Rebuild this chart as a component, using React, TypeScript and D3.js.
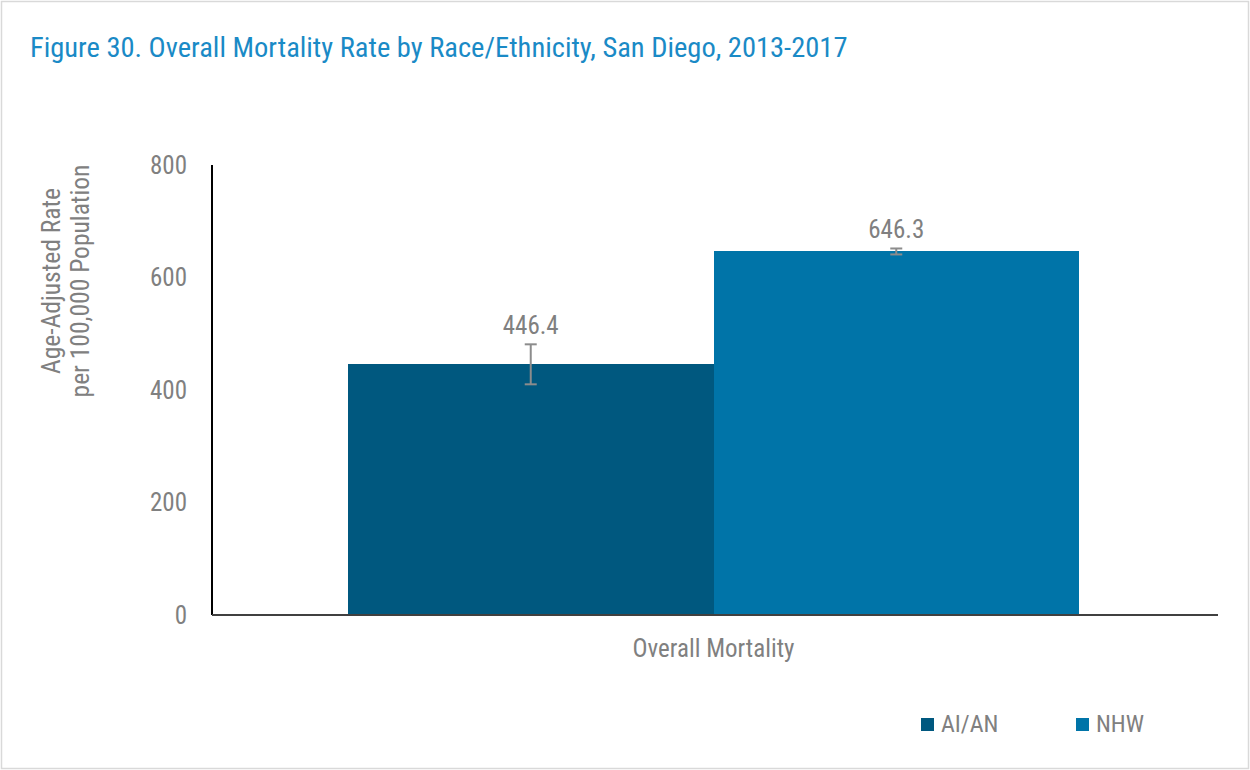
import React from 'react'
import * as d3 from 'd3'

// chart values
const categories = ['Overall Mortality']
const seriesNames = ['AI/AN', 'NHW']
const seriesColors = ['#00587f', '#0074a8']
const rates = [446.4, 646.3]
const ciLower = [410.1, 641.0]
const ciUpper = [481.2, 651.6]
const yTicks = [0, 200, 400, 600, 800]

const W = 1250
const H = 770
const FONT = '"Roboto Condensed", "Liberation Sans Narrow", "Arial Narrow", Roboto, sans-serif'
const GRAY = '#808080'

const App = () => {
  const margin = { top: 165, right: 35, bottom: 155, left: 212 }
  const plotW = W - margin.left - margin.right
  const plotH = H - margin.top - margin.bottom

  const y = d3.scaleLinear().domain([0, 800]).range([plotH, 0])
  // Excel-like gap width: the two bars fill ~73% of the category
  const x0 = d3.scaleBand().domain(categories).range([0, plotW]).paddingInner(0).paddingOuter(0.186)
  const x1 = d3.scaleBand().domain(seriesNames).range([0, x0.bandwidth()]).padding(0)

  return (
    <svg width={W} height={H} style={{ position: 'absolute', left: 0, top: 0, background: '#fff' }} fontFamily={FONT}>
      <rect x={1.5} y={1.5} width={W - 3} height={H - 3} fill="#fff" stroke="#d9d9d9" strokeWidth={1.5} />
      <text x={30} y={57} fontSize={28.5} fill="#1a8ac6">
        Figure 30. Overall Mortality Rate by Race/Ethnicity, San Diego, 2013-2017
      </text>

      <g transform={`translate(${margin.left},${margin.top})`}>
        {categories.map((c) => (
          <g key={c} transform={`translate(${x0(c)},0)`}>
            {seriesNames.map((s, i) => {
              const bx = x1(s) as number
              const cx = bx + x1.bandwidth() / 2
              return (
                <g key={s}>
                  <rect
                    x={bx}
                    y={y(rates[i])}
                    width={x1.bandwidth()}
                    height={plotH - y(rates[i])}
                    fill={seriesColors[i]}
                    shapeRendering="crispEdges"
                  />
                  <line x1={cx} x2={cx} y1={y(ciLower[i])} y2={y(ciUpper[i])} stroke="#8c8c8c" strokeWidth={2} />
                  <line x1={cx - 6} x2={cx + 6} y1={y(ciLower[i])} y2={y(ciLower[i])} stroke="#8c8c8c" strokeWidth={2} />
                  <line x1={cx - 6} x2={cx + 6} y1={y(ciUpper[i])} y2={y(ciUpper[i])} stroke="#8c8c8c" strokeWidth={2} />
                  <text x={cx} y={y(ciUpper[i]) - 10} textAnchor="middle" fontSize={25} fill={GRAY}>
                    {d3.format('.1f')(rates[i])}
                  </text>
                </g>
              )
            })}
            <text x={x0.bandwidth() / 2} y={plotH + 42} textAnchor="middle" fontSize={25} fill={GRAY}>
              {c}
            </text>
          </g>
        ))}

        {yTicks.map((t) => (
          <text key={t} x={-25} y={y(t)} dy="0.35em" textAnchor="end" fontSize={25} fill={GRAY}>
            {t}
          </text>
        ))}
        <line x1={0} x2={0} y1={0} y2={plotH} stroke="#000" strokeWidth={2} />
        <line x1={0} x2={plotW + 3} y1={plotH} y2={plotH} stroke="#404040" strokeWidth={2} />
      </g>

      <text transform="translate(0,281) rotate(-90)" textAnchor="middle" fontSize={25.5} fill={GRAY}>
        <tspan x={0} y={60}>Age-Adjusted Rate</tspan>
        <tspan x={0} y={89}>per 100,000 Population</tspan>
      </text>

      {seriesNames.map((s, i) => (
        <g key={s} transform={`translate(${921 + i * 155},718)`}>
          <rect width={13} height={13} fill={seriesColors[i]} />
          <text x={20} y={14} fontSize={24} fill={GRAY}>
            {s}
          </text>
        </g>
      ))}
    </svg>
  )
}

export default App
